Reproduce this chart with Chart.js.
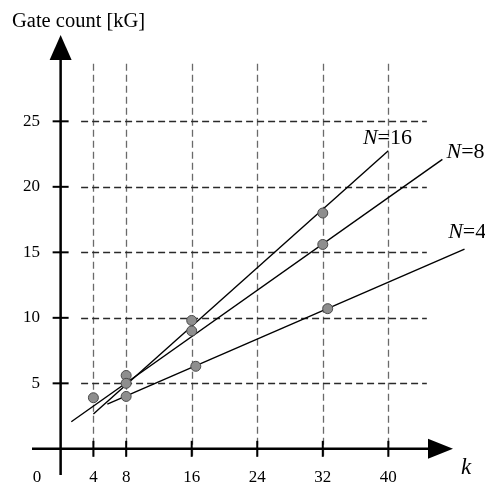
<!DOCTYPE html>
<html>
<head>
<meta charset="utf-8">
<script src="https://cdn.jsdelivr.net/npm/chart.js@4/dist/chart.umd.min.js"></script>
<style>
  html, body { margin: 0; padding: 0; background: #fff; }
  #wrap { width: 485px; height: 485px; position: relative; }
</style>
</head>
<body>
<div id="wrap"><canvas id="gate-chart"></canvas></div>
<script>
// values
var kTicks = [4, 8, 16, 24, 32, 40];
var gateTicks = [5, 10, 15, 20, 25];

var n16Points = [[8, 5.0], [16, 9.8], [32, 18.0]];
var n8Points = [[4, 3.9], [8, 5.6], [16, 9.0], [32, 15.6]];
var n4Points = [[8, 4.0], [16.5, 6.3], [32.6, 10.7]];

// fitted lines, start and end
var n16Line = [[4.0, 2.66], [40.0, 22.75]];
var n8Line = [[1.3, 2.07], [46.6, 22.1]];
var n4Line = [[5.7, 3.42], [49.3, 15.25]];

var lineLabels = [
    { n: '16', at: [36.9, 23.3] },
    { n: '8', at: [47.1, 22.2] },
    { n: '4', at: [47.3, 16.1] }
];

var toXY = function (arr) {
    return arr.map(function (p) { return { x: p[0], y: p[1] }; });
};

var serif = '"Liberation Serif", "DejaVu Serif", serif';

var pointSet = function (pts) {
    return {
        type: 'scatter',
        data: toXY(pts),
        pointRadius: 5,
        pointBackgroundColor: '#8e8e8e',
        pointBorderColor: '#4a4a4a',
        pointBorderWidth: 1,
        showLine: false,
        order: 0
    };
};

var lineSet = function (pts) {
    return {
        type: 'line',
        data: toXY(pts),
        borderColor: '#000',
        borderWidth: 1.4,
        pointRadius: 0,
        fill: false,
        order: 1
    };
};

// grid, axes, arrows and texts, placed with the chart's own scales
var axesPlugin = {
    id: 'axesPlugin',
    beforeDatasetsDraw: function (chart) {
        var ctx = chart.ctx;
        var xs = chart.scales.x, ys = chart.scales.y;
        var x0 = xs.getPixelForValue(0), y0 = ys.getPixelForValue(0);
        ctx.save();

        // dashed grid
        ctx.lineWidth = 1.3;
        ctx.setLineDash([7, 4]);
        ctx.strokeStyle = '#6a6a6a';
        kTicks.forEach(function (k) {
            var px = Math.round(xs.getPixelForValue(k)) + 0.5;
            ctx.beginPath();
            ctx.moveTo(px, ys.getPixelForValue(29.4));
            ctx.lineTo(px, ys.getPixelForValue(-0.55));
            ctx.stroke();
        });
        ctx.strokeStyle = '#2a2a2a';
        gateTicks.forEach(function (g) {
            var py = Math.round(ys.getPixelForValue(g)) + 0.5;
            ctx.beginPath();
            ctx.moveTo(xs.getPixelForValue(2.5), py);
            ctx.lineTo(xs.getPixelForValue(44.7), py);
            ctx.stroke();
        });
        ctx.setLineDash([]);

        // axes
        ctx.strokeStyle = '#000';
        ctx.fillStyle = '#000';
        ctx.lineWidth = 2.5;
        ctx.beginPath();
        ctx.moveTo(x0, 475);
        ctx.lineTo(x0, 58);
        ctx.moveTo(32, y0);
        ctx.lineTo(430, y0);
        ctx.stroke();

        ctx.beginPath();
        ctx.moveTo(x0, 35);
        ctx.lineTo(x0 - 11, 60);
        ctx.lineTo(x0 + 11, 60);
        ctx.closePath();
        ctx.fill();
        ctx.beginPath();
        ctx.moveTo(453, y0);
        ctx.lineTo(428, y0 - 10);
        ctx.lineTo(428, y0 + 10);
        ctx.closePath();
        ctx.fill();

        // tick marks
        ctx.lineWidth = 2;
        kTicks.forEach(function (k) {
            var px = xs.getPixelForValue(k);
            ctx.beginPath();
            ctx.moveTo(px, y0 - 8);
            ctx.lineTo(px, y0 + 8);
            ctx.stroke();
        });
        gateTicks.forEach(function (g) {
            var py = ys.getPixelForValue(g);
            ctx.beginPath();
            ctx.moveTo(x0 - 8, py);
            ctx.lineTo(x0 + 8, py);
            ctx.stroke();
        });

        // tick labels
        ctx.font = '17px ' + serif;
        ctx.textAlign = 'right';
        ctx.textBaseline = 'middle';
        gateTicks.forEach(function (g) {
            ctx.fillText(String(g), 40, ys.getPixelForValue(g));
        });
        ctx.textAlign = 'center';
        ctx.textBaseline = 'top';
        ctx.fillText('0', 37, 469);
        kTicks.forEach(function (k) {
            ctx.fillText(String(k), xs.getPixelForValue(k), 469);
        });

        // axis titles
        ctx.textAlign = 'left';
        ctx.textBaseline = 'alphabetic';
        ctx.font = '20.5px ' + serif;
        ctx.fillText('Gate count [kG]', 12, 27);
        ctx.font = 'italic 23px ' + serif;
        ctx.fillText('k', 461, 474);

        // line labels
        lineLabels.forEach(function (lab) {
            var px = xs.getPixelForValue(lab.at[0]);
            var py = ys.getPixelForValue(lab.at[1]);
            ctx.font = 'italic 22px ' + serif;
            ctx.fillText('N', px, py);
            var w = ctx.measureText('N').width;
            ctx.font = '22px ' + serif;
            ctx.fillText('=' + lab.n, px + w, py);
        });

        ctx.restore();
    }
};

window.onload = function () {
    var ctx = document.getElementById('gate-chart').getContext('2d');
    window.gateChart = new Chart(ctx, {
        data: {
            datasets: [
                pointSet(n16Points),
                pointSet(n8Points),
                pointSet(n4Points),
                lineSet(n16Line),
                lineSet(n8Line),
                lineSet(n4Line)
            ]
        },
        options: {
            responsive: true,
            maintainAspectRatio: false,
            animation: false,
            clip: false,
            layout: { padding: 0, autoPadding: false },
            plugins: {
                legend: { display: false },
                tooltip: { enabled: false }
            },
            scales: {
                x: { type: 'linear', min: -7.4, max: 51.8, display: false },
                y: { type: 'linear', min: -2.76, max: 34.26, display: false }
            }
        },
        plugins: [axesPlugin]
    });
};
</script>
</body>
</html>
